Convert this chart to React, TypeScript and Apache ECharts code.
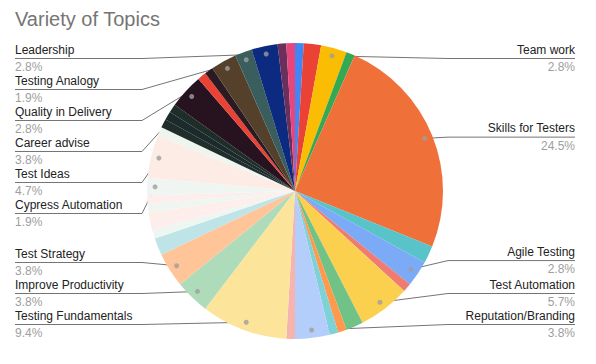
import React, { useEffect, useRef } from 'react';
import * as echarts from 'echarts';

const title = 'Variety of Topics';

const categories = [
  'Other topic 1', 'Other topic 2', 'Team work', 'Other topic 3', 'Skills for Testers',
  'Other topic 4', 'Agile Testing', 'Other topic 5', 'Test Automation', 'Other topic 6',
  'Other topic 7', 'Other topic 8', 'Reputation/Branding', 'Other topic 9', 'Testing Fundamentals',
  'Improve Productivity', 'Test Strategy', 'Other topic 10', 'Other topic 11', 'Other topic 12',
  'Other topic 13', 'Other topic 14', 'Other topic 15', 'Cypress Automation', 'Test Ideas',
  'Other topic 16', 'Other topic 17', 'Other topic 18', 'Other topic 19', 'Career advise',
  'Other topic 20', 'Other topic 21', 'Quality in Delivery', 'Testing Analogy', 'Leadership',
  'Other topic 22', 'Other topic 23',
];

const values = [
  1, 2, 3, 1, 26,
  2, 3, 1, 6, 2,
  1, 1, 4, 1, 10,
  4, 4, 2, 1, 1,
  1, 1, 1, 2, 5,
  1, 1, 1, 1, 4,
  1, 1, 3, 2, 3,
  1, 1,
];

const sliceColors = [
  '#4285f4', '#ea4335', '#fbbc04', '#34a853', '#f0703a',
  '#58c3c9', '#7baaf7', '#f07b72', '#fcd04f', '#71c287',
  '#ff994d', '#7ed1d7', '#b3cefb', '#f7b4ae', '#fde49b',
  '#aedcba', '#ffc599', '#bee4e8', '#eef6f1', '#fdedec',
  '#fdeeea', '#eff6f1', '#fdedec', '#eff6f1', '#fdece6',
  '#eef5ef', '#1f2e2a', '#1c2a2b', '#1f2d28', '#27131f',
  '#ea4335', '#2b1a22', '#54402b', '#3a5e5d', '#0c2a80',
  '#6a2f5a', '#e8457c',
];

const labeledTopics = [
  'Team work', 'Skills for Testers', 'Agile Testing', 'Test Automation', 'Reputation/Branding',
  'Testing Fundamentals', 'Improve Productivity', 'Test Strategy', 'Cypress Automation', 'Test Ideas',
  'Career advise', 'Quality in Delivery', 'Testing Analogy', 'Leadership',
];

const FONT = '"Liberation Sans", Arial, sans-serif';
const CX = 295;
const CY = 191;
const R = 148;
const DOT = 0.946;
const COLUMN = 127;

export default function App() {
  const ref = useRef<HTMLDivElement>(null);

  useEffect(() => {
    if (!ref.current) return;
    const chart = echarts.init(ref.current, null, { renderer: 'svg' });
    const total = values.reduce((a, b) => a + b, 0);

    const data = categories.map((name, i) => {
      const shown = labeledTopics.includes(name);
      return {
        name,
        value: values[i],
        itemStyle: { color: sliceColors[i] },
        label: { show: shown },
        labelLine: { show: shown },
      };
    });

    const dots: number[][] = [];
    let cum = 0;
    values.forEach((v, i) => {
      if (labeledTopics.includes(categories[i])) dots.push([DOT, cum + v / 2]);
      cum += v;
    });

    const top = 43;
    const bottom = 24;

    chart.setOption({
      animation: false,
      title: {
        text: title,
        left: 15,
        top: 9,
        padding: 0,
        textStyle: { fontSize: 20, color: '#757575', fontWeight: 'normal', fontFamily: FONT },
      },
      polar: { center: [CX, CY], radius: R },
      angleAxis: { type: 'value', min: 0, max: total, startAngle: 90, clockwise: true, show: false },
      radiusAxis: { type: 'value', min: 0, max: 1, show: false },
      series: [
        {
          type: 'pie',
          left: 0,
          right: 6,
          top,
          bottom,
          center: [CX, CY - top],
          radius: R,
          startAngle: 90,
          clockwise: true,
          percentPrecision: 1,
          avoidLabelOverlap: true,
          emphasis: { disabled: true },
          data,
          label: {
            position: 'outside',
            alignTo: 'edge',
            edgeDistance: 15,
            minMargin: 1.5,
            overflow: 'none',
            formatter: (p: any) => `{n|${p.name}}\n{p|${((p.value / total) * 100).toFixed(1)}%}`,
            rich: {
              n: { fontSize: 12, color: '#222222', lineHeight: 19, fontFamily: FONT },
              p: { fontSize: 12, color: '#9e9e9e', lineHeight: 16, fontFamily: FONT },
            },
          },
          labelLine: {
            length: -8,
            length2: 0,
            lineStyle: { color: '#757575', width: 1 },
          },
          labelLayout: (params: any) => {
            const pts = params.labelLinePoints;
            const r = params.labelRect;
            if (!pts || !r) return {};
            const isLeft = r.x + r.width / 2 < CX;
            const midY = r.y + r.height / 2;
            const p0 = [CX + (pts[0][0] - CX) * DOT, CY + (pts[0][1] - CY) * DOT];
            const outer = isLeft ? r.x : r.x + r.width;
            const elbow = isLeft ? outer + COLUMN : outer - COLUMN;
            return { labelLinePoints: [p0, [elbow, midY], [outer, midY]] };
          },
          z: 1,
        },
        {
          type: 'scatter',
          coordinateSystem: 'polar',
          data: dots,
          symbol: 'circle',
          symbolSize: 5,
          itemStyle: { color: '#9e9e9e' },
          silent: true,
          z: 5,
        },
      ],
    });

    return () => chart.dispose();
  }, []);

  return (
    <div
      ref={ref}
      style={{ position: 'absolute', left: 0, top: 0, width: 596, height: 364, background: '#fff' }}
    />
  );
}
